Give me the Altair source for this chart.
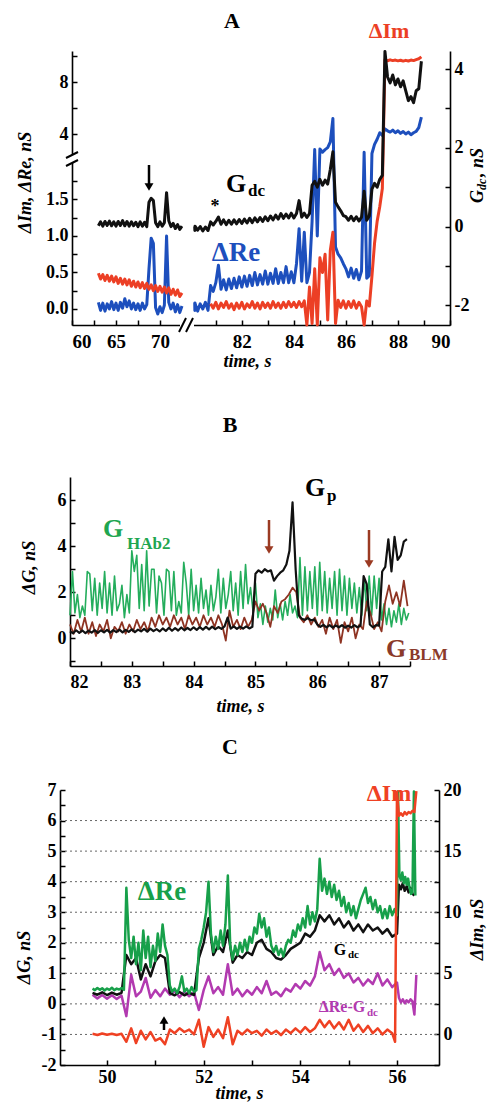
import altair as alt
import pandas as pd

FONT = "Liberation Serif"

# ---------------- Panel A data (left segment 63.0-72.5 s, right segment 80-88.9 s) ----------------
A_LEFT_T0, A_LEFT_DT = 63.0, 0.25
A_im_left = [0.49, 0.41, 0.47, 0.39, 0.46, 0.38, 0.45, 0.37, 0.44, 0.35,
             0.42, 0.34, 0.41, 0.33, 0.40, 0.31, 0.38, 0.30, 0.37, 0.29,
             0.36, 0.28, 0.35, 0.27, 0.33, 0.25, 0.32, 0.24, 0.31, 0.23,
             0.30, 0.22, 0.29, 0.20, 0.27, 0.19, 0.26, 0.17, 0.22]
A_re_left = [0.09, -0.02, 0.08, -0.03, 0.07, 0.00, 0.10, -0.01, 0.08, -0.02,
             0.09, 0.01, 0.14, 0.03, 0.11, 0.00, 0.08, -0.01, 0.07, -0.02,
             0.08, 0.00, 0.06, 0.55, 0.97, 0.90, 0.02, -0.07, 0.03, -0.05,
             0.05, 1.00, 0.09, 0.00, 0.08, -0.04, 0.06, -0.05, 0.04]
A_gdc_left = [0.02, 0.12, 0.01, 0.13, 0.03, 0.14, 0.02, 0.12, 0.01, 0.13,
              0.03, 0.15, 0.02, 0.13, 0.01, 0.12, 0.02, 0.11, 0.00, 0.12,
              0.01, 0.11, 0.00, 0.62, 0.72, 0.66, 0.10, 0.00, 0.12, 0.01,
              0.10, 0.86, 0.15, 0.00, 0.08, -0.05, 0.05, -0.07, 0.01]

A_RIGHT_T0, A_RIGHT_DT = 80.0, 0.1
A_re_right = [0.09, -0.02, 0.08, -0.03, 0.07, 0.00, 0.09, -0.02, 0.32, 0.24,
              0.36, 0.60, 0.27, 0.40, 0.26, 0.41, 0.28, 0.42, 0.29, 0.44,
              0.30, 0.45, 0.31, 0.46, 0.32, 0.50, 0.33, 0.47, 0.34, 0.52,
              0.34, 0.49, 0.35, 0.55, 0.35, 0.50, 0.36, 0.58, 0.36, 0.51,
              0.36, 0.62, 1.10, 0.38, 1.05, 0.36, 0.50, 1.20, 2.80, 1.00,
              2.85, 2.60, 2.80, 2.95, 3.40, 5.20, 0.85, 0.75, 0.70, 0.62,
              0.55, 0.44, 0.56, 0.42, 0.54, 0.40, 0.52, 2.60, 0.42, 0.46,
              2.50, 3.20, 3.60, 4.10, 3.90, 4.40, 4.25, 4.15, 4.30, 4.10,
              4.25, 4.05, 4.20, 4.00, 4.15, 3.95, 4.10, 4.20, 4.50, 5.30]
A_gdc_right = [0.00, -0.10, 0.01, -0.09, 0.00, -0.11, -0.01, -0.10, 0.12, 0.04,
               0.13, 0.24, 0.06, 0.17, 0.05, 0.16, 0.06, 0.17, 0.07, 0.18,
               0.08, 0.19, 0.09, 0.21, 0.10, 0.22, 0.12, 0.23, 0.13, 0.25,
               0.15, 0.27, 0.17, 0.29, 0.19, 0.33, 0.21, 0.32, 0.22, 0.34,
               0.22, 0.33, 0.66, 0.24, 0.34, 0.23, 0.33, 1.05, 1.15, 1.00,
               1.20, 1.05, 1.18, 1.08, 1.45, 1.90, 0.62, 0.50, 0.40, 0.28,
               0.25, 0.16, 0.26, 0.15, 0.25, 0.14, 0.24, 0.90, 0.16, 0.27,
               0.95, 1.10, 1.00, 1.20, 1.30, 4.45, 3.80, 3.65, 3.85, 3.60,
               3.75, 3.55, 3.70, 3.45, 3.20, 3.30, 3.15, 3.45, 3.50, 4.20]
A_IM_RIGHT_T0 = 80.8
A_im_right = [0.07, 0.01,
              0.09, 0.00, 0.08, 0.02, 0.10, 0.01, 0.07, -0.01, 0.08, 0.01,
              0.09, 0.00, 0.07, 0.02, 0.10, 0.01, 0.08, 0.00, 0.09, 0.02,
              0.08, 0.01, 0.10, 0.02, 0.08, 0.01, 0.09, 0.02, 0.10, 0.03,
              0.09, 0.02, 0.10, 0.03, 0.11, -0.22, 0.30, -0.20, 0.55, -0.22,
              0.70, 0.50, 0.75, -0.15, 0.80, 1.05, -0.20, 0.12, 0.02, 0.11,
              0.01, 0.10, 0.02, 0.11, 0.01, 0.09, 0.03, -0.22, 0.11, 0.04,
              0.45, 0.90, 1.20, 1.40, 1.65, 9.70, 9.65, 9.72, 9.66, 9.70,
              9.64, 9.69, 9.62, 9.68, 9.63, 9.70, 9.66, 9.74, 9.80, 9.95]

# ---------------- Panel B data (82-87.5 s) ----------------
B_GREEN_T0, B_GREEN_DT = 82.0, 0.04
B_hab2 = [1.0, 2.9, 1.1, 1.9, 0.9, 1.4, 1.0, 2.9, 2.8, 1.2,
          2.6, 1.0, 2.4, 1.3, 2.9, 1.1, 2.4, 1.0, 2.7, 1.2,
          1.5, 2.3, 0.9, 1.9, 1.1, 3.8, 2.9, 3.6, 1.3, 3.2,
          1.2, 3.8, 1.4, 3.0, 3.0, 1.1, 2.7, 2.4, 1.0, 3.0,
          2.9, 1.2, 2.9, 1.0, 1.6, 1.1, 3.3, 2.4, 1.0, 3.0,
          1.2, 2.3, 1.1, 2.6, 1.3, 2.1, 1.0, 2.3, 1.2, 1.8,
          3.0, 1.1, 2.6, 1.3, 1.9, 2.9, 1.2, 2.4, 1.0, 2.9,
          1.3, 3.2, 1.5, 2.2, 1.2, 2.4, 0.9, 1.5, 0.6, 1.4,
          0.7, 1.3, 0.8, 2.1, 0.9, 1.5, 0.8, 1.6, 1.0, 1.9,
          1.1, 1.4, 0.9, 3.5, 1.0, 3.1, 1.2, 2.9, 1.3, 3.1,
          1.0, 3.3, 1.2, 2.9, 1.1, 2.6, 1.3, 2.9, 1.0, 3.0,
          1.2, 2.7, 1.0, 2.6, 1.3, 2.4, 1.1, 2.2, 1.0, 2.6,
          1.2, 2.7, 1.0, 2.7, 1.3, 2.6, 0.8, 1.5, 0.6, 1.3,
          0.5, 1.2, 0.7, 1.5, 0.6, 1.3, 0.8, 1.1]
B_BLM_T0, B_BLM_DT = 82.0, 0.06
B_blm = [0.6, 0.2, 0.8, 0.3, 0.9, 0.2, 0.7, 0.1, 0.6, 0.3,
         0.8, 0.0, 0.5, 0.3, 0.7, 0.2, 0.6, 0.3, 0.8, 0.4,
         0.7, 0.3, 0.9, 0.5, 1.0, 0.6, 0.9, 0.5, 1.0, 0.6,
         0.9, 0.4, 1.0, 0.6, 0.9, 0.5, 1.0, 0.6, 0.9, 0.5,
         1.0, 0.6, -0.1, 1.2, 0.5, 0.8, 0.4, 0.9, 0.5, 0.8,
         1.6, 1.2, 1.5, 1.1, 0.5, 1.4, 1.1, 1.6, 1.7, 1.9,
         2.2, 2.0, 0.9, 0.7, 1.0, 0.6, 0.9, 0.5, 0.8, 0.2,
         0.9, 0.4, 0.8, -0.2, 0.7, 0.3, 0.9, 0.0, 0.6, 0.4,
         1.6, 1.1, 0.4, 0.7, 0.3, 1.6, 2.3, 1.5, 2.0, 1.4,
         2.5, 1.4]
B_GP_T0, B_GP_DT = 82.0, 0.05
B_gp = [0.30, 0.22, 0.35, 0.24, 0.34, 0.23, 0.33, 0.25, 0.36, 0.24,
        0.35, 0.26, 0.37, 0.25, 0.36, 0.27, 0.38, 0.26, 0.37, 0.28,
        0.39, 0.27, 0.38, 0.30, 0.41, 0.29, 0.42, 0.31, 0.40, 0.30,
        0.43, 0.32, 0.46, 0.33, 0.44, 0.34, 0.47, 0.35, 0.45, 0.36,
        0.48, 0.37, 0.49, 0.38, 0.50, 0.39, 0.51, 0.40, 0.49, 0.41,
        0.52, 0.90, 0.42, 0.52, 0.41, 0.51, 0.42, 0.52, 0.43, 0.50,
        2.80, 2.95, 2.85, 3.00, 2.90, 2.95, 2.50, 2.70, 2.85, 2.95,
        3.20, 3.80, 5.90, 3.00, 1.00, 0.85, 0.80, 0.88, 0.78, 0.82,
        0.60, 0.50, 0.58, 0.48, 0.57, 0.47, 0.56, 0.48, 0.57, 0.46,
        0.55, 0.47, 0.57, 0.48, 0.56, 2.70, 2.35, 0.60, 0.48, 0.57,
        0.55, 2.90, 3.10, 4.30, 2.90, 4.40, 3.40, 3.60, 4.20, 4.30]

# ---------------- Panel C data (49.7-56.4 s) ----------------
C_T0 = 49.7
C_re = [0.50, 0.45, 0.52, 0.46, 0.51, 0.44, 0.50, 0.46, 0.53, 0.45,
        0.50, 0.47, 0.52, 0.46, 3.80, 2.10, 1.50, 2.20, 1.30, 2.00,
        1.10, 2.40, 1.50, 2.20, 1.20, 1.90, 1.40, 2.30, 1.70, 2.60,
        1.90, 1.60, 0.60, 0.40, 0.50, 0.35, 0.55, 0.90, 0.40, 0.50,
        0.35, 0.55, 0.40, 0.45, 1.80, 2.10, 2.50, 3.00, 4.00, 2.30,
        1.70, 2.20, 1.80, 2.40, 1.90, 2.60, 4.20, 1.90, 1.45, 1.90,
        1.60, 2.00, 1.70, 2.10, 1.75, 2.20, 2.00, 2.50, 2.30, 2.95,
        2.50, 2.80, 2.20, 2.50, 1.90, 1.70, 1.90, 1.60, 1.80, 1.55,
        1.90, 2.10, 2.00, 2.40, 2.20, 2.60, 2.40, 2.80, 2.50, 3.20,
        2.60, 3.00, 2.70, 3.10, 4.75, 3.70, 4.10, 3.60, 4.00, 3.50,
        3.90, 3.40, 3.70, 3.20, 3.50, 3.00, 3.30, 2.90, 3.20, 2.80,
        3.10, 3.40, 3.60, 3.80, 3.30, 3.50, 3.10, 3.40, 3.00, 3.20,
        2.80, 3.10, 2.80, 3.20, 2.90, 3.10, 2.90]
C_re_end = [6.95, 4.20, 4.05, 4.30, 3.95, 4.15, 3.90, 4.10, 3.80, 3.60, 3.65, 6.95, 3.55]
C_gdc = [0.36, 0.30, 0.38, 0.29, 0.37, 0.30, 0.36, 1.60, 1.30, 1.50,
         0.80, 1.30, 0.90, 1.40, 1.60, 1.50, 0.35, 0.28, 0.39, 0.28,
         0.37, 0.29, 1.50, 2.00, 2.80, 1.60, 1.90, 1.70, 2.40, 1.35,
         1.60, 1.50, 1.70, 1.60, 2.00, 2.10, 1.80, 1.70, 1.50, 1.45,
         1.60, 1.80, 1.90, 2.00, 2.30, 2.20, 2.40, 2.90, 2.70, 2.90,
         2.60, 2.80, 2.50, 2.70, 2.40, 2.60, 2.35, 2.60, 2.40, 2.50,
         2.30, 2.45, 2.20, 2.30]
C_gdc_end = [3.90, 3.75, 3.95, 3.70, 3.85, 3.65, 3.80, 3.60, 3.55]
C_diff = [0.30, 0.18, 0.29, 0.17, 0.28, 0.16, 0.27, -0.40, 0.95, 0.25,
          0.40, 0.85, 0.20, 0.45, 0.25, 0.50, 0.30, 0.42, 0.22, 0.40,
          0.25, 0.38, -0.20, 0.45, 0.90, 0.35, 0.55, 0.30, 1.30, 0.30,
          0.50, 0.25, 0.45, 0.30, 0.55, 0.35, 0.75, 0.30, 0.40, 0.25,
          0.50, 0.40, 0.65, 0.50, 0.75, 0.60, 0.90, 1.70, 1.10, 1.30,
          0.95, 1.15, 0.85, 1.00, 0.70, 0.85, 0.60, 0.80, 0.65, 1.00,
          0.60, 0.80, 0.55, 0.70]
C_diff_end = [0.20, 0.05, 0.15, 0.02, 0.12, 0.05, 0.15, 0.08, -0.35, 0.95]
C_im = [0.05, -0.05, 0.08, -0.03, 0.06, -0.04, 0.05, -0.60, 0.50, -0.70,
        0.30, -0.40, 0.20, -0.50, -0.30, -0.80, 0.40, 0.10, 0.50, 0.20,
        0.40, 0.00, 1.20, -1.00, 0.60, -0.20, 0.40, -0.30, 1.40, -0.80,
        0.30, 0.00, 0.40, 0.10, 0.30, -0.10, 0.40, 0.05, 0.30, -0.05,
        0.40, 0.10, 0.50, 0.15, 0.60, 0.20, 0.50, 1.20, 0.60, 1.10,
        0.50, 1.00, 0.40, 1.20, 0.30, 0.80, 0.20, 0.70, 0.10, 0.50,
        0.00, 0.40, 0.10]
C_im_end = [-0.60, 19.8, 17.9, 18.1, 17.9, 18.2, 18.0, 18.2, 18.1, 18.3, 18.2, 19.9]
C_grid_levels = [-1, 0, 1, 2, 3, 4, 5, 6]


def series(*segs):
    rows = []
    for t0, dt, vals, sid in segs:
        for i, v in enumerate(vals):
            rows.append({"t": round(t0 + i * dt, 4), "v": v, "seg": sid})
    return pd.DataFrame(rows)


one = pd.DataFrame({"k": [0]})


def label(text, x, y, size, color="black", align="center", baseline="middle",
          angle=0, style="normal"):
    return alt.Chart(one).mark_text(
        text=text, font=FONT, fontWeight="bold", fontSize=size, color=color,
        align=align, baseline=baseline, angle=angle, fontStyle=style,
    ).encode(x=alt.value(x), y=alt.value(y))


def segm(x1, y1, x2, y2, color="black", w=2.0):
    return alt.Chart(one).mark_rule(color=color, strokeWidth=w).encode(
        x=alt.value(x1), y=alt.value(y1), x2=alt.value(x2), y2=alt.value(y2))


def arrow(x, y_tail, y_tip, color="black", down=True):
    if down:
        shaft = segm(x, y_tail, x, y_tip - 8, color, 2.5)
        head = alt.Chart(one).mark_point(shape="triangle-down", filled=True, size=80,
                                         color=color, opacity=1).encode(
            x=alt.value(x), y=alt.value(y_tip - 5))
    else:
        shaft = segm(x, y_tail, x, y_tip + 8, color, 2.5)
        head = alt.Chart(one).mark_point(shape="triangle-up", filled=True, size=80,
                                         color=color, opacity=1).encode(
            x=alt.value(x), y=alt.value(y_tip + 5))
    return shaft + head


def whitebox(x1, y1, x2, y2):
    return alt.Chart(one).mark_rect(color="white").encode(
        x=alt.value(x1), x2=alt.value(x2), y=alt.value(y1), y2=alt.value(y2))


def trace(df, color, x, y, w=2.0):
    return alt.Chart(df).mark_line(color=color, strokeWidth=w, strokeJoin="round").encode(
        x=x, y=y, detail="seg:N")


TICK = {"expr": "-5"}
ax_common = dict(tickSize=TICK, labelPadding=9, titleBaseline="middle", grid=False)

# ---------------- Panel A ----------------
A_W, A_H = 378, 274
a_x = alt.X("t:Q", scale=alt.Scale(domain=[60, 72.8, 80.2, 90], range=[0, 112.6, 123, 378],
                                   nice=False, zero=False),
            axis=alt.Axis(values=[60, 62.5, 65, 67.5, 70, 81, 82, 83, 84, 85, 86, 87, 88, 89, 90],
                          labelExpr="indexof([60,65,70,82,84,86,88,90], datum.value) >= 0 ? format(datum.value, 'd') : ''",
                          title="time, s", titleX=175, titleY=36, labelFontSize=19,
                          tickSize=TICK, labelPadding=12, titleBaseline="middle", grid=False))
a_yl = alt.Y("v:Q", scale=alt.Scale(domain=[-0.22, 2.0, 2.25, 10.4], range=[274, 112, 105.75, 0],
                                    nice=False, zero=False),
             axis=alt.Axis(values=[0, 0.25, 0.5, 0.75, 1, 1.25, 1.5, 1.75, 4, 6, 8, 10],
                           labelExpr="(datum.value == 4 || datum.value == 8) ? format(datum.value, 'd') : (indexof([0, 0.5, 1, 1.5], datum.value) >= 0 ? format(datum.value, '.1f') : '')",
                           title="ΔIm, ΔRe, nS", titleX=-47, titleY=131, **ax_common))
a_yr = alt.Y("v:Q", scale=alt.Scale(domain=[-2.5, 4.46], nice=False, zero=False),
             axis=alt.Axis(orient="right", values=[-2, -1, 0, 1, 2, 3, 4],
                           labelExpr="datum.value % 2 == 0 ? (datum.value < 0 ? '-' + format(-datum.value, 'd') : format(datum.value, 'd')) : ''",
                           title="", **ax_common))

a_re = series((A_LEFT_T0, A_LEFT_DT, A_re_left, 0), (A_RIGHT_T0, A_RIGHT_DT, A_re_right, 1))
a_im = series((A_LEFT_T0, A_LEFT_DT, A_im_left, 0), (A_IM_RIGHT_T0, A_RIGHT_DT, A_im_right, 1))
a_gdc = series((A_LEFT_T0, A_LEFT_DT, A_gdc_left, 0), (A_RIGHT_T0, A_RIGHT_DT, A_gdc_right, 1))

A_BLUE, A_RED = "#1d4fbd", "#ec3f25"
a_left = alt.layer(trace(a_re, A_BLUE, a_x, a_yl, 3.0), trace(a_im, A_RED, a_x, a_yl, 3.0))
a_right = trace(a_gdc, "#111111", a_x, a_yr, 3.0)
a_notes = alt.layer(
    whitebox(108, 269, 122, 279), segm(107, 281, 114, 267), segm(114, 281, 121, 267),
    whitebox(-4, 104, 4, 112), segm(-6, 107, 6, 101), segm(-6, 115, 6, 109),
    label("A", 160, -30, 22),
    label("ΔIm", 317, -20, 22, A_RED),
    label("G", 164, 133, 26),
    label("dc", 176, 145, 17, align="left", baseline="alphabetic"),
    label("ΔRe", 164, 202, 27, A_BLUE),
    label("*", 143, 156, 18),
    arrow(77, 114, 141),
    # right-axis title G_dc, nS (rotated, reading upward)
    label("G", 406, 152, 18, align="left", angle=270, style="italic"),
    label("dc", 410, 139, 12, align="left", angle=270, style="italic"),
    label(", nS", 406, 126, 18, align="left", angle=270, style="italic"),
)
panelA = alt.layer(a_left, a_right).resolve_scale(y="independent")
panelA = alt.layer(panelA, a_notes).properties(width=A_W, height=A_H)

# ---------------- Panel B ----------------
B_W, B_H = 338, 217
b_x = alt.X("t:Q", scale=alt.Scale(domain=[82, 87.5], range=[-2, 338], nice=False, zero=False),
            axis=alt.Axis(values=[82, 82.5, 83, 83.5, 84, 84.5, 85, 85.5, 86, 86.5, 87, 87.5],
                          labelExpr="datum.value % 1 == 0 ? format(datum.value, 'd') : ''",
                          title="time, s", titleX=168, titleY=40, tickSize=TICK, labelPadding=12,
                          titleBaseline="middle", grid=False))
b_y = alt.Y("v:Q", scale=alt.Scale(domain=[-1.2, 7.0], range=[217, 28], nice=False, zero=False),
            axis=alt.Axis(values=[-1, 0, 1, 2, 3, 4, 5, 6],
                          labelExpr="datum.value % 2 == 0 ? format(datum.value, 'd') : ''",
                          title="ΔG, nS", titleX=-41, titleY=118, offset=2, **ax_common))
b_green = series((B_GREEN_T0, B_GREEN_DT, B_hab2, 0))
b_brown = series((B_BLM_T0, B_BLM_DT, B_blm, 0))
b_black = series((B_GP_T0, B_GP_DT, B_gp, 0))
B_GREEN, B_BROWN = "#24ad5c", "#8e3322"
panelB = alt.layer(
    trace(b_green, B_GREEN, b_x, b_y, 1.6),
    trace(b_brown, B_BROWN, b_x, b_y, 1.8),
    trace(b_black, "#111111", b_x, b_y, 2.2),
    label("B", 158, -24, 22),
    label("G", 41, 80, 26, "#1fa650"),
    label("HAb2", 55, 100, 17, "#1fa650", align="left", baseline="alphabetic"),
    label("G", 243, 39, 26),
    label("p", 255, 52, 17, align="left", baseline="alphabetic"),
    label("G", 324, 200, 26, "#8b3a2a"),
    label("BLM", 337, 211, 17, "#8b3a2a", align="left", baseline="alphabetic"),
    arrow(197, 71, 106, "#9b3a22"),
    arrow(297, 81, 120, "#9b3a22"),
).properties(width=B_W, height=B_H)

# ---------------- Panel C ----------------
C_W, C_H = 367, 275
c_x = alt.X("t:Q", scale=alt.Scale(domain=[49.027, 56.869], range=[-12, 367], nice=False, zero=False),
            axis=alt.Axis(values=[50, 51, 52, 53, 54, 55, 56],
                          labelExpr="datum.value % 2 == 0 ? format(datum.value, 'd') : ''",
                          title="time, s", titleX=167, titleY=28, tickSize=TICK, labelPadding=8,
                          titleBaseline="middle", grid=False))
c_yl = alt.Y("v:Q", scale=alt.Scale(domain=[-2, 7], nice=False, zero=False),
             axis=alt.Axis(values=[-2, -1.5, -1, -0.5, 0, 0.5, 1, 1.5, 2, 2.5, 3, 3.5, 4, 4.5, 5, 5.5, 6, 6.5, 7],
                           labelExpr="datum.value % 1 == 0 ? (datum.value < 0 ? '-' + format(-datum.value, 'd') : format(datum.value, 'd')) : ''",
                           title="ΔG, nS", titleX=-36, titleY=167, offset=12, **ax_common))
c_yr = alt.Y("v:Q", scale=alt.Scale(domain=[-2.5, 20], nice=False, zero=False),
             axis=alt.Axis(orient="right", values=[-2.5, 0, 2.5, 5, 7.5, 10, 12.5, 15, 17.5, 20],
                           labelExpr="datum.value % 5 == 0 ? format(datum.value, 'd') : ''",
                           title="ΔIm, nS", titleX=38, titleY=139, titleAngle=270, **ax_common))
c_re = series((C_T0, 0.05, C_re, 0), (56.02, 0.03, C_re_end, 0))
c_gdc = series((C_T0, 0.1, C_gdc, 0), (56.04, 0.04, C_gdc_end, 0))
c_diff = series((C_T0, 0.1, C_diff, 0), (56.04, 0.04, C_diff_end, 0))
c_im = series((C_T0, 0.1, C_im, 0), (55.96, 0.04, C_im_end, 0))
c_grid = pd.DataFrame({"v": C_grid_levels})
C_GREEN, C_MAG, C_RED = "#17a04a", "#b23ab0", "#ef4123"
c_left = alt.layer(
    alt.Chart(c_grid).mark_rule(color="#666666", strokeWidth=1, strokeDash=[2, 3]).encode(
        y=c_yl, x=alt.value(-12), x2=alt.value(367)),
    trace(c_diff, C_MAG, c_x, c_yl, 2.5),
    trace(c_gdc, "#111111", c_x, c_yl, 2.5),
    trace(c_re, C_GREEN, c_x, c_yl, 2.5),
)
c_right = trace(c_im, C_RED, c_x, c_yr, 2.5)
c_notes = alt.layer(
    label("C", 158, -43, 22),
    label("ΔRe", 90, 102, 27, C_GREEN),
    label("ΔIm", 317, 4, 24, C_RED),
    label("G", 268, 160, 16),
    label("dc", 276, 168, 11, align="left", baseline="alphabetic"),
    label("ΔRe-G", 270, 217, 16, C_MAG),
    label("dc", 295, 226, 11, C_MAG, align="left", baseline="alphabetic"),
    arrow(92, 240, 225, down=False),
)
panelC = alt.layer(c_left, c_right).resolve_scale(y="independent")
panelC = alt.layer(panelC, c_notes).properties(width=C_W, height=C_H)

chart = alt.vconcat(panelA, panelB, panelC, spacing=124, bounds="flush").properties(
    padding={"left": 7, "top": 2, "right": 0, "bottom": 0}
).configure_axis(
    labelFont=FONT, labelFontWeight="bold", labelFontSize=18, labelColor="black",
    titleFont=FONT, titleFontWeight="bold", titleFontStyle="italic", titleFontSize=18,
    titleColor="black", domainColor="black", domainWidth=1.6, tickColor="black", tickWidth=1.5,
).configure_view(stroke=None)

chart.save("out.html", embed_options={"renderer": "svg", "actions": False})
